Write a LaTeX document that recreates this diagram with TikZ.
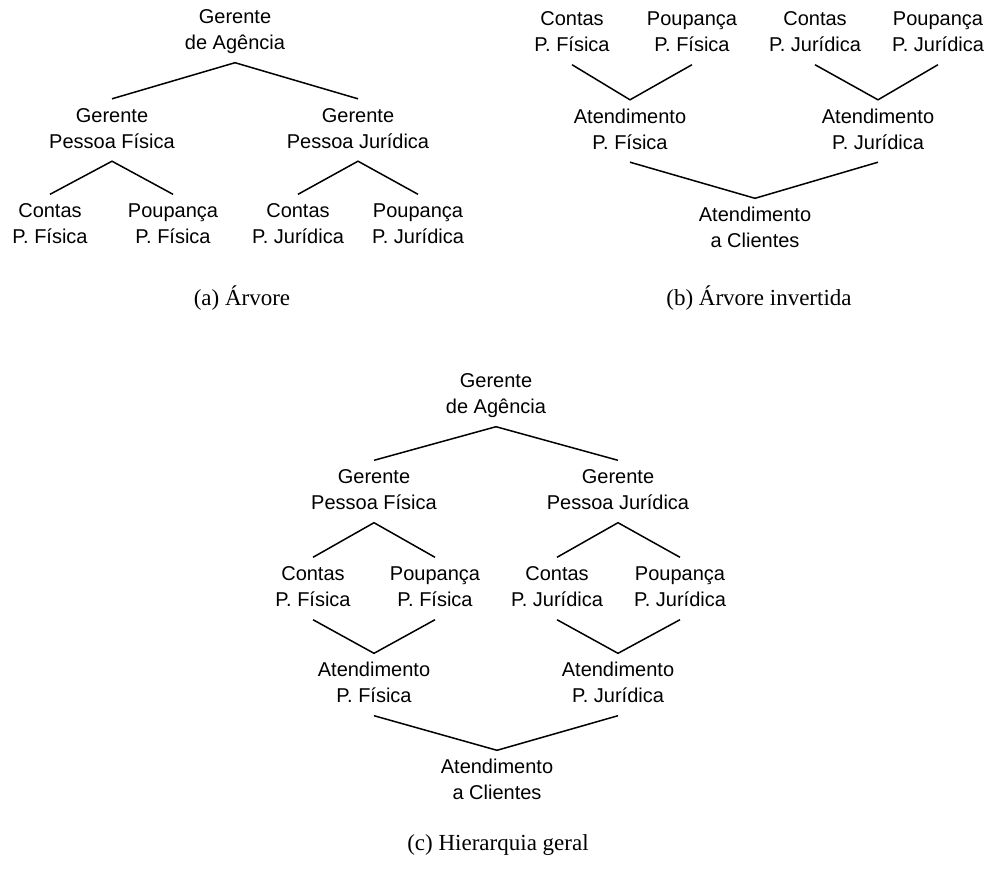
\documentclass[tikz,border=0pt]{standalone}
\usepackage{fontspec}
\setmainfont{Liberation Serif}
\newfontfamily\labelfont{Liberation Sans}
\newcommand{\twolines}[2]{\strut #1\\\strut #2}
\begin{document}
\begin{tikzpicture}[x=1pt,y=-1pt,
  unit/.style={font=\labelfont\fontsize{20}{26}\selectfont, align=center, inner sep=5pt},
  link/.style={line width=1.5pt, line join=miter},
  caption/.style={font=\fontsize{23}{28}\selectfont, inner sep=0pt}]
\useasboundingbox (0,0) rectangle (991,871);

% (a) tree
\node[unit] (a-root) at (235,31.5)  {\twolines{Gerente}{de Agência}};
\node[unit] (a-gpf)  at (112,130)   {\twolines{Gerente}{Pessoa Física}};
\node[unit] (a-gpj)  at (358,130)   {\twolines{Gerente}{Pessoa Jurídica}};
\node[unit] (a-cpf)  at (50,225.5)  {\twolines{Contas}{P. Física}};
\node[unit] (a-ppf)  at (173,225.5) {\twolines{Poupança}{P. Física}};
\node[unit] (a-cpj)  at (298,225.5) {\twolines{Contas}{P. Jurídica}};
\node[unit] (a-ppj)  at (418,225.5) {\twolines{Poupança}{P. Jurídica}};
\draw[link] (a-gpf.north) -- (a-root.south) -- (a-gpj.north);
\draw[link] (a-cpf.north) -- (a-gpf.south) -- (a-ppf.north);
\draw[link] (a-cpj.north) -- (a-gpj.south) -- (a-ppj.north);
\node[caption] (cap-a) at (242,298) {(a) Árvore};

% (b) inverted tree
\node[unit] (b-cpf) at (572,33.5)  {\twolines{Contas}{P. Física}};
\node[unit] (b-ppf) at (692,33.5)  {\twolines{Poupança}{P. Física}};
\node[unit] (b-cpj) at (815,33.5)  {\twolines{Contas}{P. Jurídica}};
\node[unit] (b-ppj) at (938,33.5)  {\twolines{Poupança}{P. Jurídica}};
\node[unit] (b-apf) at (630,131)   {\twolines{Atendimento}{P. Física}};
\node[unit] (b-apj) at (878,131)   {\twolines{Atendimento}{P. Jurídica}};
\node[unit] (b-cli) at (755,229.5) {\twolines{Atendimento}{a Clientes}};
\draw[link] (b-cpf.south) -- (b-apf.north) -- (b-ppf.south);
\draw[link] (b-cpj.south) -- (b-apj.north) -- (b-ppj.south);
\draw[link] (b-apf.south) -- (b-cli.north) -- (b-apj.south);
\node[caption] (cap-b) at (759,298) {(b) Árvore invertida};

% (c) general hierarchy
\node[unit] (c-root) at (496,395.5) {\twolines{Gerente}{de Agência}};
\node[unit] (c-gpf)  at (374,491.5) {\twolines{Gerente}{Pessoa Física}};
\node[unit] (c-gpj)  at (618,491.5) {\twolines{Gerente}{Pessoa Jurídica}};
\node[unit] (c-cpf)  at (313,588.5) {\twolines{Contas}{P. Física}};
\node[unit] (c-ppf)  at (435,588.5) {\twolines{Poupança}{P. Física}};
\node[unit] (c-cpj)  at (557,588.5) {\twolines{Contas}{P. Jurídica}};
\node[unit] (c-ppj)  at (680,588.5) {\twolines{Poupança}{P. Jurídica}};
\node[unit] (c-apf)  at (374,684.5) {\twolines{Atendimento}{P. Física}};
\node[unit] (c-apj)  at (618,684.5) {\twolines{Atendimento}{P. Jurídica}};
\node[unit] (c-cli)  at (497,781.5) {\twolines{Atendimento}{a Clientes}};
\draw[link] (c-gpf.north) -- (c-root.south) -- (c-gpj.north);
\draw[link] (c-cpf.north) -- (c-gpf.south) -- (c-ppf.north);
\draw[link] (c-cpj.north) -- (c-gpj.south) -- (c-ppj.north);
\draw[link] (c-cpf.south) -- (c-apf.north) -- (c-ppf.south);
\draw[link] (c-cpj.south) -- (c-apj.north) -- (c-ppj.south);
\draw[link] (c-apf.south) -- (c-cli.north) -- (c-apj.south);
\node[caption] (cap-c) at (498,845) {(c) Hierarquia geral};
\end{tikzpicture}
\end{document}
